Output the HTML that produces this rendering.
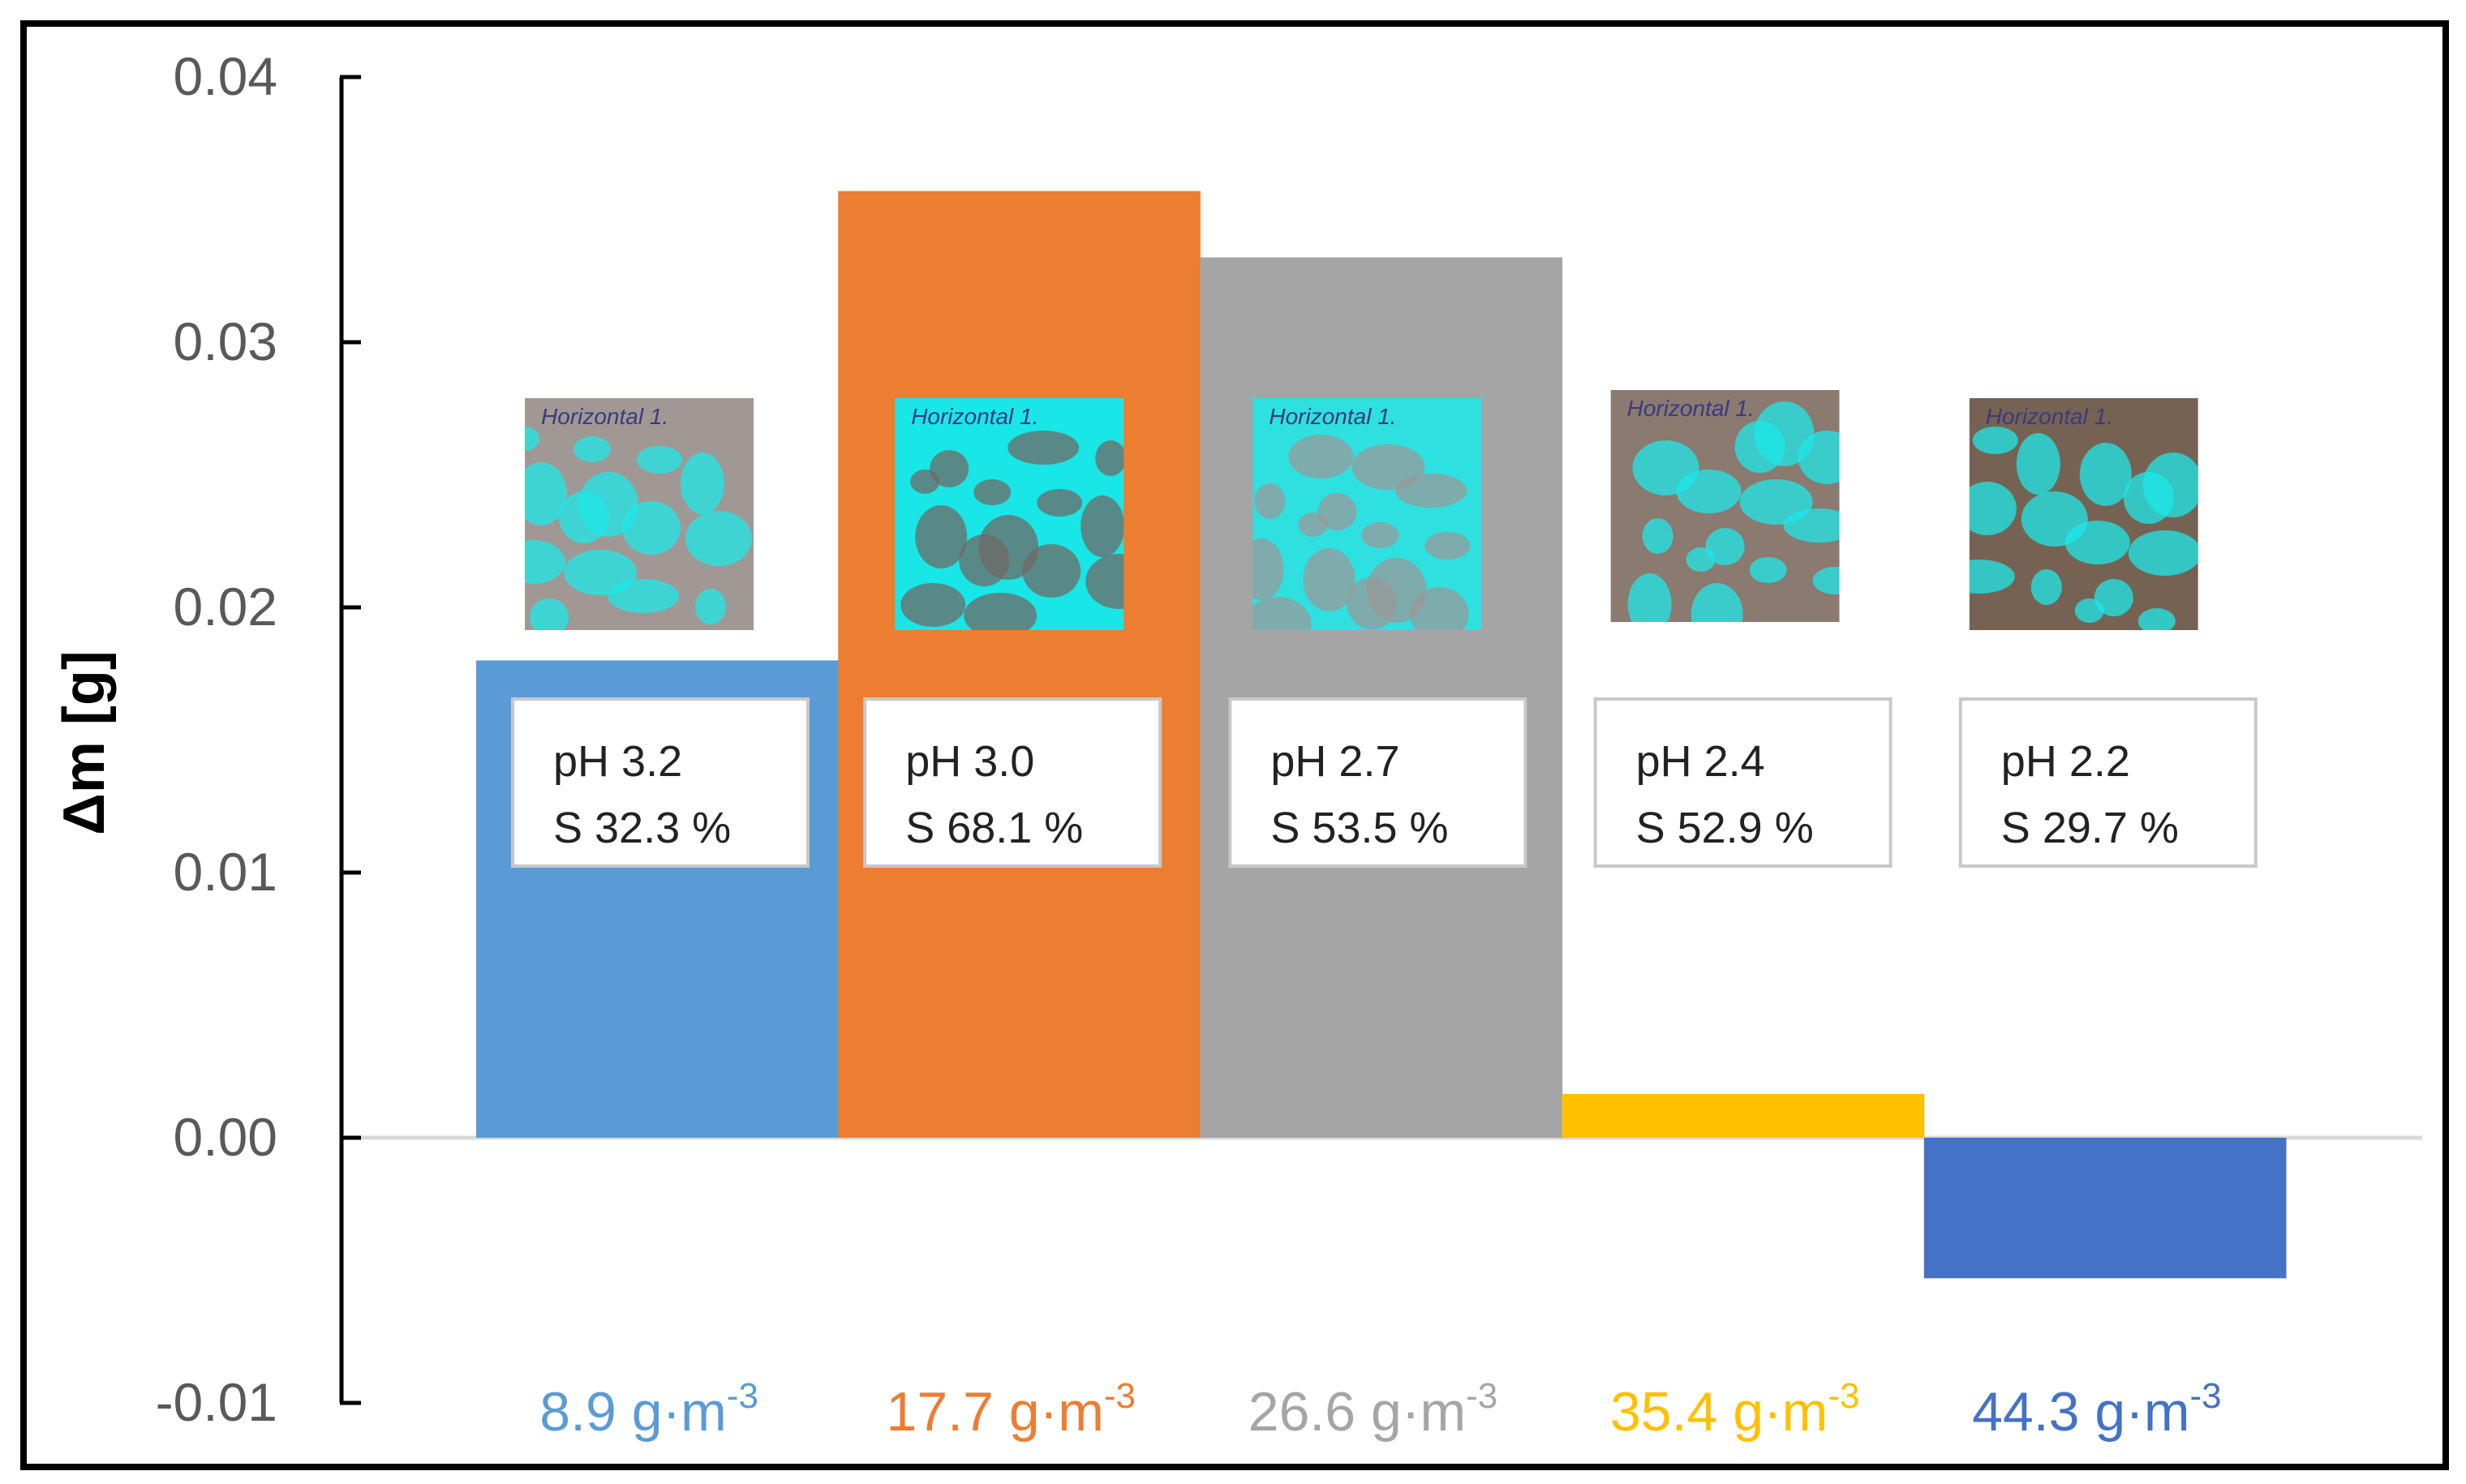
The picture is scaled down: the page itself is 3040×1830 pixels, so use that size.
<!DOCTYPE html>
<html><head><meta charset="utf-8"><style>
html,body{margin:0;padding:0;background:#fff;}
svg{display:block;font-family:"Liberation Sans",sans-serif;}
</style></head><body>
<svg id="chart" width="3040" height="1830" viewBox="0 0 3040 1830">
<defs id="defs"></defs>
<rect x="29" y="29" width="2986" height="1780" fill="#fff" stroke="#000" stroke-width="8"/>
<g id="grid"></g><g id="bars"></g><g id="photos"></g><g id="boxes"></g><g id="axis"></g><g id="xlabels"></g>
<text transform="translate(128,916) rotate(-90)" text-anchor="middle" font-size="72" font-weight="bold" fill="#000">Δm [g]</text>
</svg>
<script>
const categories = ["8.9", "17.7", "26.6", "35.4", "44.3"];
const values = [0.0180, 0.0357, 0.0332, 0.00165, -0.0053];
const phLabels = ["pH 3.2", "pH 3.0", "pH 2.7", "pH 2.4", "pH 2.2"];
const sLabels = ["S 32.3 %", "S 68.1 %", "S 53.5 %", "S 52.9 %", "S 29.7 %"];
const yTicks = [0.04, 0.03, 0.02, 0.01, 0.00, -0.01];
const tickText = ["0.04", "0.03", "0.02", "0.01", "0.00", "-0.01"];
const colors = ["#5b9bd5", "#ed7d31", "#a5a5a5", "#ffc000", "#4472c4"];
const photoBase = ["#a09894", "#19e6e6", "#2ee0e0", "#8a7a70", "#766252"];
const photoBlob = ["#1ee8e8", "#6f6a66", "#9a9a9a", "#1ee8e8", "#1ee8e8"];

const NS = "http://www.w3.org/2000/svg";
const y = v => 1403 - v * 32700;
const bandX = i => 587 + i * 446.2;
const bandW = 446.2;
function mk(tag, attrs, parent, txt){const e=document.createElementNS(NS,tag);for(const k in attrs)e.setAttribute(k,attrs[k]);if(txt!==undefined)e.textContent=txt;parent.appendChild(e);return e;}
const g = id => document.getElementById(id);

let zl = mk("line",{x1:419,x2:2986,y1:y(0),y2:y(0),stroke:"#d9d9d9","stroke-width":5},g("grid"));



let ax = mk("line",{x1:421,x2:421,y1:y(0.04),y2:y(-0.01),stroke:"#000","stroke-width":5},g("axis"));


yTicks.forEach((t,i)=>{
  let tk = mk("line",{x1:419,x2:445,y1:y(t),y2:y(t),stroke:"#000","stroke-width":5},g("axis"));
  
  
  let tl = mk("text",{x:342,y:y(t)+22,"text-anchor":"end","font-size":66,fill:"#595959"},g("axis"),tickText[i]);
  
  
});

const photoY = [491,491,491,481,491];
const photoOff = [60,70,65,60,56];
const boxOff = [45,33,37,41,45];
values.forEach((v,i)=>{
  const x0 = bandX(i);
  const top = Math.min(y(v), y(0)), h = Math.abs(y(v)-y(0));
  let b = mk("rect",{x:x0,y:top,width:bandW+0.5,height:h,fill:colors[i]},g("bars"));
  
  

  const px = x0 + photoOff[i], py = photoY[i], pw=282, ph=286;
  const cp = mk("clipPath",{id:"clip"+i},g("defs"));
  mk("rect",{x:px,y:py,width:pw,height:ph},cp);
  const pg = mk("g",{"clip-path":"url(#clip"+i+")"},g("photos"));
  
  
  mk("rect",{x:px,y:py,width:pw,height:ph,fill:photoBase[i]},pg);
  for(let k=0;k<14;k++){
    const cx = px + ((k*73 + i*37) % pw), cy = py + 50 + ((k*97 + i*53) % (ph-50));
    mk("ellipse",{cx:cx,cy:cy,rx:18+(k*13%30),ry:15+(k*17%28),fill:photoBlob[i],opacity:0.75},pg);
  }
  mk("text",{x:px+20,y:py+32,"font-size":28,fill:"#3a3a80","font-style":"italic"},pg,"Horizontal 1.");

  const bx = x0 + boxOff[i], bw = 364, by = 862, bh = 206;
  let tb = mk("rect",{x:bx,y:by,width:bw,height:bh,fill:"#fff",stroke:"#c8c8c8","stroke-width":4},g("boxes"));
  
  
  let t1 = mk("text",{x:bx+50,y:by+95,"font-size":54,fill:"#222"},g("boxes"),phLabels[i]);
  
  
  let t2 = mk("text",{x:bx+50,y:by+177,"font-size":54,fill:"#222"},g("boxes"),sLabels[i]);
  
  

  let xl = mk("text",{x:x0+bandW/2-10,y:1764,"text-anchor":"middle","font-size":68,fill:colors[i]},g("xlabels"));
  
  
  mk("tspan",{},xl,categories[i]+" g·m");
  mk("tspan",{dy:-28,"font-size":44},xl,"-3");
});
</script>
</body></html>
